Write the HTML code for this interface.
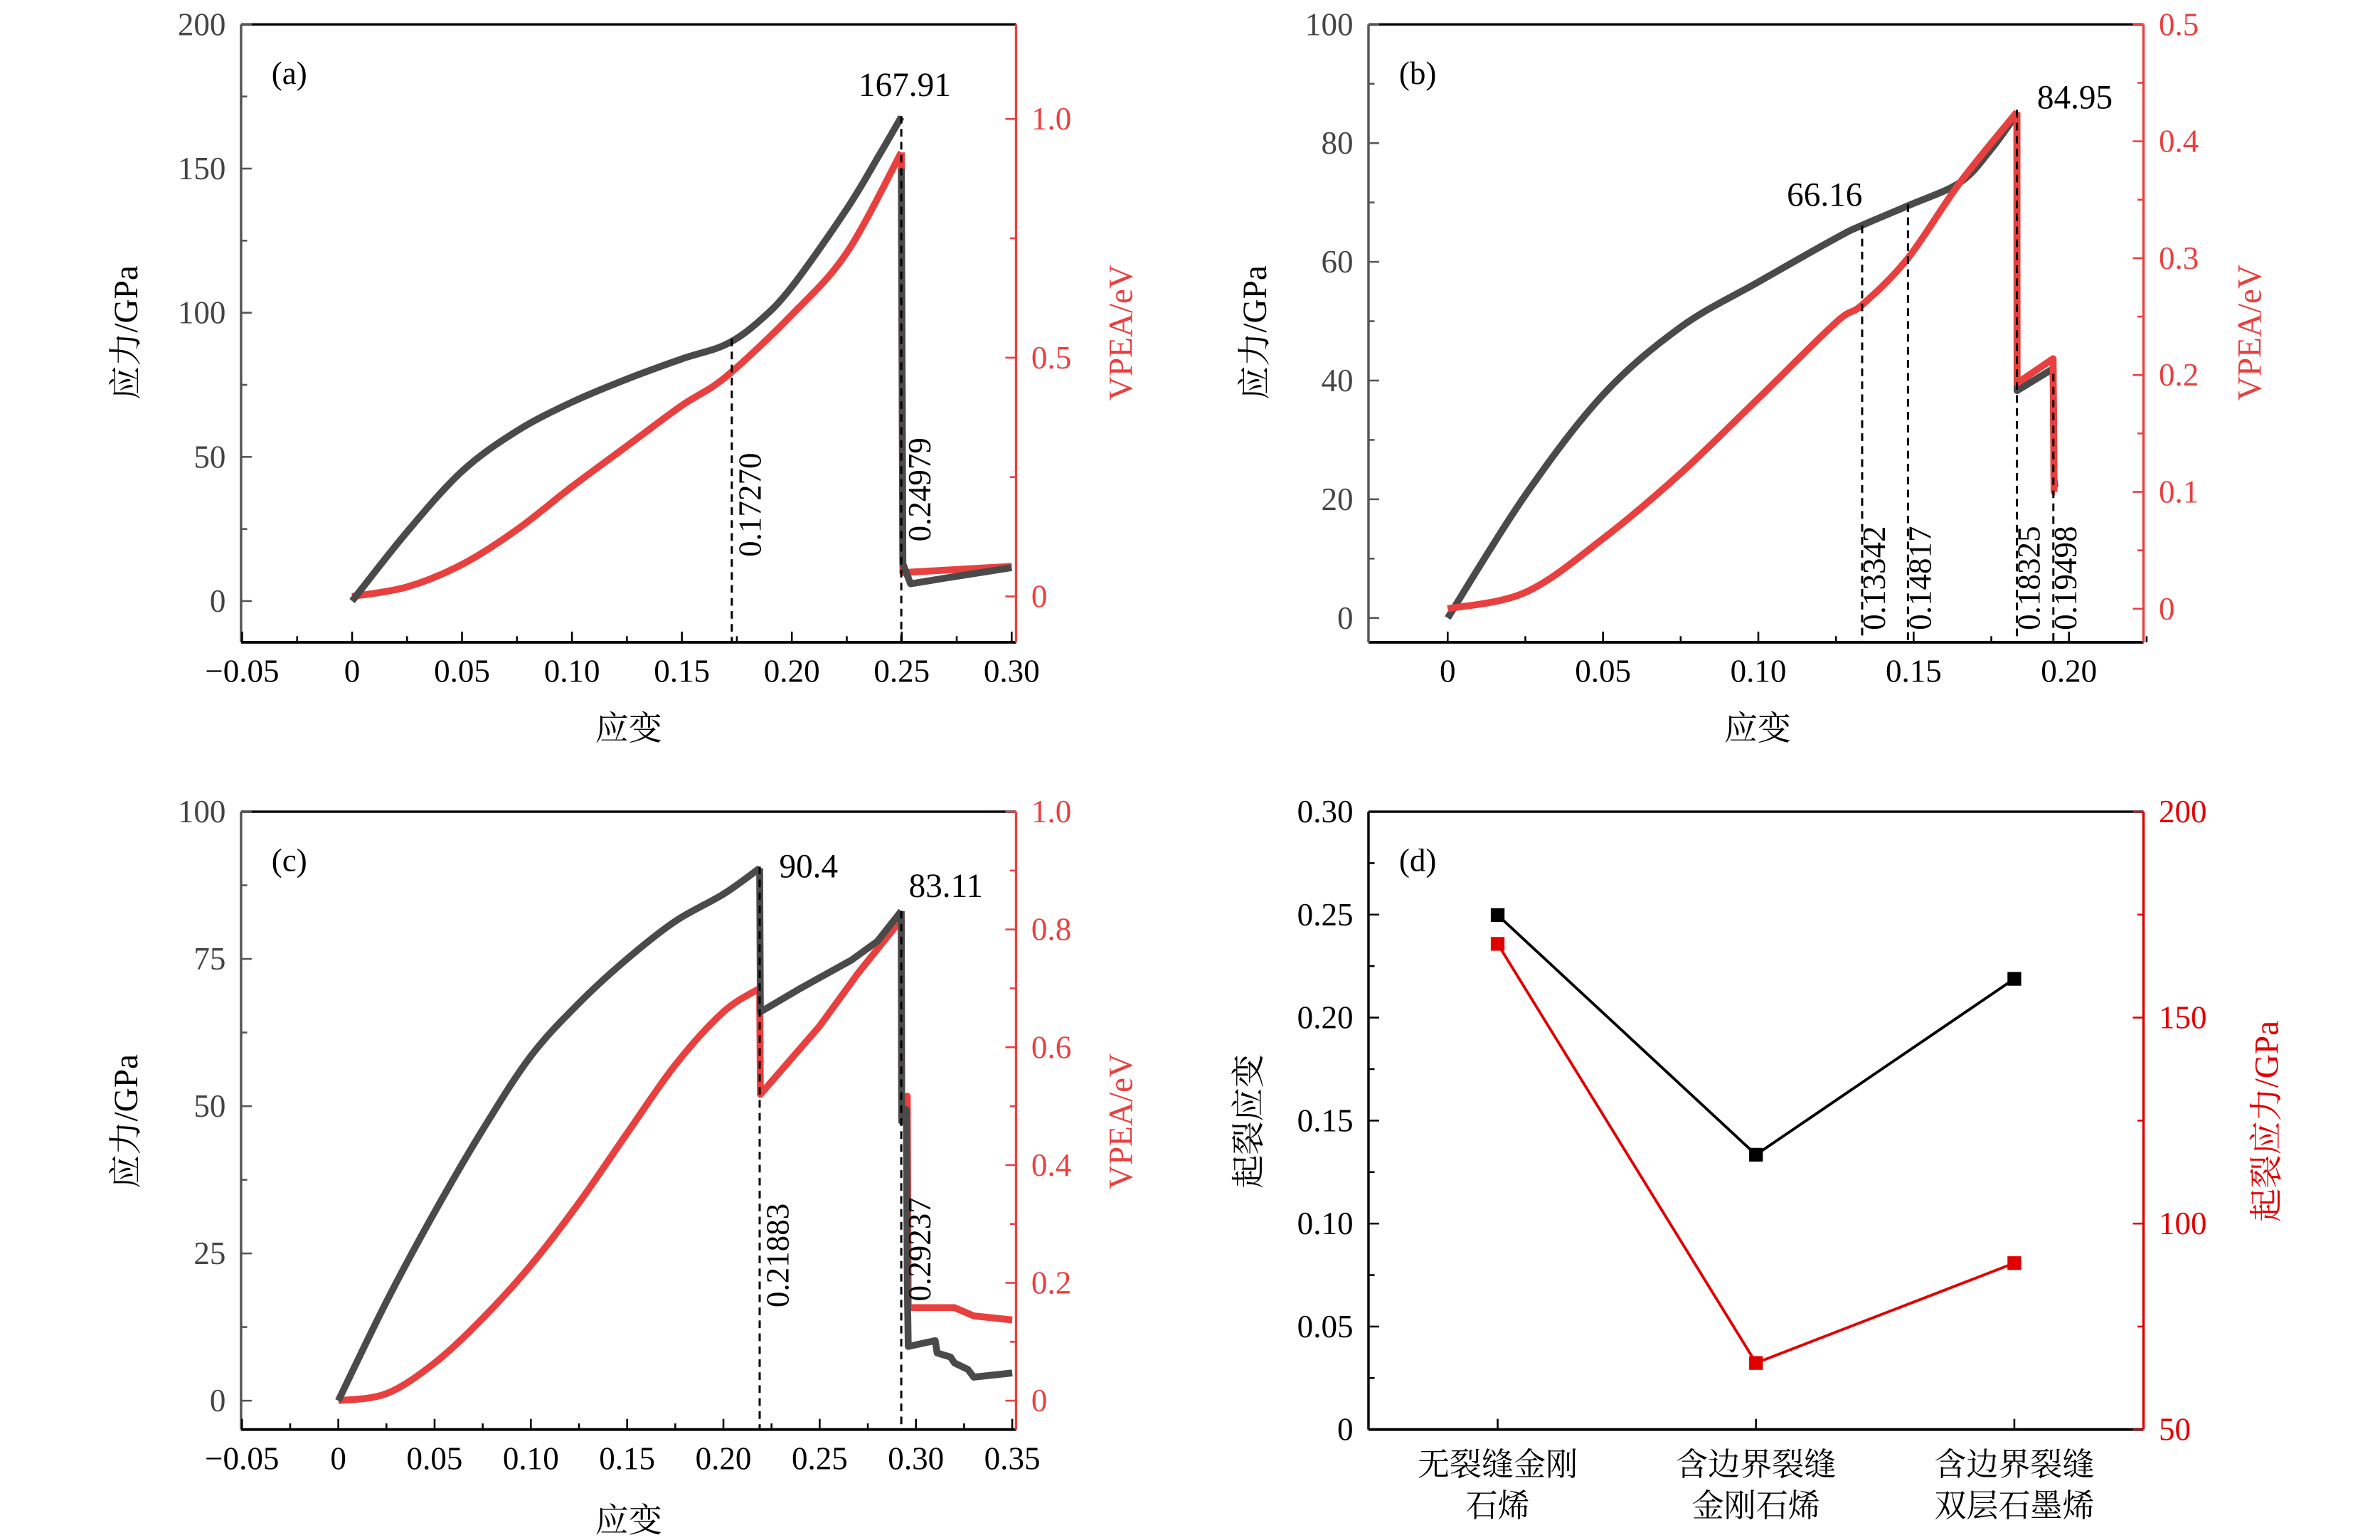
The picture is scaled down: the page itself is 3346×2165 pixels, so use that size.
<!DOCTYPE html>
<html><head><meta charset="utf-8">
<style>
html,body{margin:0;padding:0;background:#fff;}
svg{display:block;}
text{font-family:"Liberation Serif","Noto Serif CJK SC","Noto Sans CJK SC",serif;}
</style></head>
<body>
<svg id="fig" xmlns="http://www.w3.org/2000/svg" width="3346" height="2165" viewBox="0 0 1560 1009.4">
<rect x="0" y="0" width="1560" height="1009.4" fill="#fff"/>
</svg>
<script>
// ---------- Panel (a) data ----------
const aStrain = [0,0.025,0.05,0.075,0.10,0.125,0.15,0.17,0.185,0.20,0.225,0.24,0.2498];
const aStress = [0,24,45,59,69,77,84,89,97,109,136,155,167.9];
const aStrainPost = [0.2498,0.2505,0.254,0.27,0.30];
const aStressPost = [150,13,6,8,11.6];
const aVStrain = [0,0.025,0.05,0.075,0.10,0.125,0.15,0.17,0.20,0.225,0.2498];
const aVpea = [0,0.02,0.067,0.14,0.23,0.315,0.40,0.46,0.59,0.72,0.93];
const aVStrainPost = [0.2498,0.2505,0.30];
const aVpeaPost = [0.93,0.05,0.063];
const aMarks = [0.17270,0.24979];

// ---------- Panel (b) data ----------
const bStrain = [0,0.025,0.05,0.075,0.10,0.125,0.13342,0.1484,0.165,0.175,0.18325];
const bStress = [0,20.7,37.6,49,56.6,64,66.16,69.5,73.4,79,84.95];
const bStrainPost = [0.18325,0.1833,0.1949,0.1952,0.1955];
const bStressPost = [84.95,38.3,42,23.4,22];
const bVStrain = [0,0.025,0.05,0.075,0.10,0.125,0.13342,0.14817,0.165,0.18325];
const bVpea = [0,0.014,0.06,0.116,0.18,0.245,0.26,0.30,0.365,0.425];
const bVStrainPost = [0.18325,0.1833,0.1949,0.1952,0.1955];
const bVpeaPost = [0.425,0.193,0.214,0.1,0.1];
const bMarks = [0.13342,0.14817,0.18325,0.19498];

// ---------- Panel (c) data ----------
const cStrain = [0,0.025,0.05,0.075,0.10,0.125,0.15,0.175,0.20,0.21883];
const cStress = [0,16.8,32,46,58.5,67.5,75,81.4,86,90.4];
const cStrainPost = [0.21883,0.2192,0.24,0.2665,0.28,0.29237];
const cStressPost = [90.4,66,70,74.8,78,83.11];
const cStrainTail = [0.29237,0.2926,0.295,0.2955,0.296,0.31,0.311,0.318,0.32,0.327,0.33,0.35];
const cStressTail = [83.11,47.4,49.4,20,9.2,10.2,8.1,7.4,6.4,5.3,4,4.7];
const cVStrain = [0,0.025,0.05,0.075,0.10,0.125,0.15,0.175,0.20,0.21883];
const cVpea = [0,0.012,0.064,0.14,0.23,0.336,0.454,0.57,0.66,0.70];
const cVStrainPost = [0.21883,0.2192,0.25,0.27,0.29237];
const cVpeaPost = [0.70,0.52,0.636,0.726,0.817];
const cVStrainTail = [0.29237,0.2926,0.2955,0.296,0.32,0.33,0.35];
const cVpeaTail = [0.817,0.51,0.517,0.158,0.158,0.144,0.137];
const cMarks = [0.21883,0.29237];

// ---------- Panel (d) data ----------
const dCategories = [["无裂缝金刚","石烯"],["含边界裂缝","金刚石烯"],["含边界裂缝","双层石墨烯"]];
const dCrackStrain = [0.24979,0.13342,0.21883];
const dCrackStress = [167.91,66.16,90.4];

const SVGNS="http://www.w3.org/2000/svg";
const fig=document.getElementById('fig');
function el(tag,attrs,parent){const e=document.createElementNS(SVGNS,tag);for(const k in attrs)e.setAttribute(k,attrs[k]);(parent||fig).appendChild(e);return e;}
function txt(s,x,y,attrs,parent){const t=el('text',Object.assign({x:x,y:y},attrs||{}),parent);t.textContent=s;return t;}
function lin(d0,d1,p0,p1){return v=>p0+(v-d0)*(p1-p0)/(d1-d0);}
function smoothPath(P){
  if(P.length<3) return 'M'+P.map(p=>p[0].toFixed(2)+','+p[1].toFixed(2)).join(' L');
  let d='M'+P[0][0].toFixed(2)+','+P[0][1].toFixed(2);
  for(let i=0;i<P.length-1;i++){
    const p0=P[Math.max(0,i-1)],p1=P[i],p2=P[i+1],p3=P[Math.min(P.length-1,i+2)];
    const c1=[p1[0]+(p2[0]-p0[0])/6,p1[1]+(p2[1]-p0[1])/6];
    const c2=[p2[0]-(p3[0]-p1[0])/6,p2[1]-(p3[1]-p1[1])/6];
    d+=' C'+c1[0].toFixed(2)+','+c1[1].toFixed(2)+' '+c2[0].toFixed(2)+','+c2[1].toFixed(2)+' '+p2[0].toFixed(2)+','+p2[1].toFixed(2);
  }
  return d;
}

const GRAY='#4a4a4a', RED='#e8403f', AX='#555';

function panel(o){
  const g=el('g',{});
  
  
  const X=lin(o.xd[0],o.xd[1],o.L,o.R), Y=lin(o.yd[0],o.yd[1],o.B,o.T), Y2=o.y2d?lin(o.y2d[0],o.y2d[1],o.B,o.T):null;
  (o.series||[]).forEach(s=>{
    const P=s.x.map((v,i)=>[X(v),s.right?Y2(s.y[i]):Y(s.y[i])]);
    const p=el('path',{d:s.smooth?smoothPath(P):'M'+P.map(q=>q[0].toFixed(2)+','+q[1].toFixed(2)).join(' L'),fill:'none',stroke:s.color,'stroke-width':s.w||4.5,'stroke-linejoin':'round'},g);
    
    
  });
  (o.marks||[]).forEach((m,i)=>{
    const top=o.markTops[i];
    const l=el('line',{x1:X(m),x2:X(m),y1:top,y2:o.B,stroke:'#000','stroke-width':1.4,'stroke-dasharray':'5,3.5'},g);
    
    
    const tx=X(m)+(o.markDx||19), ty=o.markY[i];
    const t=txt(m.toFixed(5),tx,ty,{'font-size':21,transform:'rotate(-90 '+tx+' '+ty+')','text-anchor':'start'},g);
    
    
  });
  el('line',{x1:o.L,x2:o.R,y1:o.T,y2:o.T,stroke:'#000','stroke-width':1.6},g);
  el('line',{x1:o.L,x2:o.R,y1:o.B,y2:o.B,stroke:'#000','stroke-width':1.8},g);
  el('line',{x1:o.L,x2:o.L,y1:o.T,y2:o.B,stroke:o.leftColor||AX,'stroke-width':1.6},g);
  el('line',{x1:o.R,x2:o.R,y1:o.T,y2:o.B,stroke:o.rightColor||'#000','stroke-width':1.6},g);
  if(o.xticks){
    o.xticks.forEach((v,i)=>{
      const x=X(v);
      el('line',{x1:x,x2:x,y1:o.B,y2:o.B-7,stroke:'#000','stroke-width':1.2},g);
      const t=txt(o.xlabels[i],x,o.B+26,{'font-size':21,'text-anchor':'middle'},g);
      
      
    });
    (o.xminor||[]).forEach(v=>{const x=X(v);el('line',{x1:x,x2:x,y1:o.B,y2:o.B-4,stroke:'#000','stroke-width':1.2},g);});
  }
  o.yticks.forEach((v,i)=>{
    const y=Y(v);
    el('line',{x1:o.L,x2:o.L+7,y1:y,y2:y,stroke:o.leftColor||AX,'stroke-width':1.2},g);
    const t=txt(o.ylabels[i],o.L-10,y+7,{'font-size':21,'text-anchor':'end',fill:o.leftTextColor||'#444'},g);
    
    
  });
  o.yminor.forEach(v=>{const y=Y(v);el('line',{x1:o.L,x2:o.L+4,y1:y,y2:y,stroke:o.leftColor||AX,'stroke-width':1.2},g);});
  if(Y2){
    o.y2ticks.forEach((v,i)=>{
      const y=Y2(v);
      el('line',{x1:o.R,x2:o.R-7,y1:y,y2:y,stroke:o.rightColor,'stroke-width':1.2},g);
      const t=txt(o.y2labels[i],o.R+10,y+7,{'font-size':21,'text-anchor':'start',fill:o.rightColor},g);
      
      
    });
    o.y2minor.forEach(v=>{const y=Y2(v);el('line',{x1:o.R,x2:o.R-4,y1:y,y2:y,stroke:o.rightColor,'stroke-width':1.2},g);});
  }
  const pl=txt(o.letter,o.L+20,o.T+39,{'font-size':21},g);
  
  
  return {X,Y,Y2,g};
}
function range(a,b,s){const r=[];for(let v=a;v<=b+1e-9;v+=s)r.push(+v.toFixed(4));return r;}
function axTitle(s,x,y,rot,color,name){
  const t=txt(s,x,y,{'font-size':22,'text-anchor':'middle',fill:color||'#000',transform:rot?'rotate(-90 '+x+' '+y+')':''});
  
  
  return t;
}
function annot(s,x,y,name){
  const t=txt(s,x,y,{'font-size':22,'text-anchor':'middle'});
  
  
}

// ---------- (a) ----------
const pa=panel({name:'panel-a',letter:'(a)',L:158,R:666,T:16,B:421,xd:[-0.0505,0.302],yd:[-14.3,200],
  y2d:[-0.096,1.198],rightColor:RED,
  xticks:[-0.05,0,0.05,0.10,0.15,0.20,0.25,0.30],xlabels:['−0.05','0','0.05','0.10','0.15','0.20','0.25','0.30'],xminor:range(-0.025,0.275,0.05),
  yticks:[0,50,100,150,200],ylabels:['0','50','100','150','200'],yminor:[25,75,125,175],
  y2ticks:[0,0.5,1.0],y2labels:['0','0.5','1.0'],y2minor:[0.25,0.75],
  series:[
    {name:'vpea-curve-a',x:aVStrain,y:aVpea,color:RED,right:true,smooth:true},
    {name:'vpea-curve-a-post',x:aVStrainPost,y:aVpeaPost,color:RED,right:true},
    {name:'stress-curve-a',x:aStrain,y:aStress,color:GRAY,smooth:true},
    {name:'stress-curve-a-post',x:aStrainPost,y:aStressPost,color:GRAY}],
  marks:aMarks,markTops:[222,76],markY:[365,355]
});
axTitle('应力/GPa',90,218,true,'#000','y-axis-title-a');
axTitle('VPEA/eV',742,218,true,RED,'y2-axis-title-a');
axTitle('应变',412,485,false,'#000','x-axis-title-a');
annot('167.91',593,63,'peak-label-a');

// ---------- (b) ----------
const pb=panel({name:'panel-b',letter:'(b)',L:897,R:1405,T:16,B:421,xd:[-0.0255,0.224],yd:[-4.1,100],
  y2d:[-0.0287,0.5],rightColor:RED,
  xticks:[0,0.05,0.10,0.15,0.20],xlabels:['0','0.05','0.10','0.15','0.20'],xminor:range(0.025,0.225,0.05),
  yticks:[0,20,40,60,80,100],ylabels:['0','20','40','60','80','100'],yminor:[10,30,50,70,90],
  y2ticks:[0,0.1,0.2,0.3,0.4,0.5],y2labels:['0','0.1','0.2','0.3','0.4','0.5'],y2minor:[0.05,0.15,0.25,0.35,0.45],
  series:[
    {name:'stress-curve-b',x:bStrain,y:bStress,color:GRAY,smooth:true},
    {name:'stress-curve-b-post',x:bStrainPost,y:bStressPost,color:GRAY},
    {name:'vpea-curve-b',x:bVStrain,y:bVpea,color:RED,right:true,smooth:true},
    {name:'vpea-curve-b-post',x:bVStrainPost,y:bVpeaPost,color:RED,right:true}],
  marks:bMarks,markTops:[148,134,72,245],markY:[413,413,413,413],markDx:15
});
axTitle('应力/GPa',830,218,true,'#000','y-axis-title-b');
axTitle('VPEA/eV',1482,218,true,RED,'y2-axis-title-b');
axTitle('应变',1152,485,false,'#000','x-axis-title-b');
annot('66.16',1196,135,'peak-label-b1');
annot('84.95',1360,71,'peak-label-b2');

// ---------- (c) ----------
const pc=panel({name:'panel-c',letter:'(c)',L:158,R:666,T:532,B:937,xd:[-0.0505,0.352],yd:[-4.9,100],
  y2d:[-0.049,1],rightColor:RED,
  xticks:[-0.05,0,0.05,0.10,0.15,0.20,0.25,0.30,0.35],xlabels:['−0.05','0','0.05','0.10','0.15','0.20','0.25','0.30','0.35'],xminor:range(-0.025,0.325,0.05),
  yticks:[0,25,50,75,100],ylabels:['0','25','50','75','100'],yminor:[12.5,37.5,62.5,87.5],
  y2ticks:[0,0.2,0.4,0.6,0.8,1.0],y2labels:['0','0.2','0.4','0.6','0.8','1.0'],y2minor:[0.1,0.3,0.5,0.7,0.9],
  series:[
    {name:'vpea-curve-c',x:cVStrain,y:cVpea,color:RED,right:true,smooth:true},
    {name:'vpea-curve-c-post',x:cVStrainPost,y:cVpeaPost,color:RED,right:true},
    {name:'vpea-curve-c-tail',x:cVStrainTail,y:cVpeaTail,color:RED,right:true},
    {name:'stress-curve-c',x:cStrain,y:cStress,color:GRAY,smooth:true},
    {name:'stress-curve-c-post',x:cStrainPost,y:cStressPost,color:GRAY},
    {name:'stress-curve-c-tail',x:cStrainTail,y:cStressTail,color:GRAY}],
  marks:cMarks,markTops:[568,597],markY:[857,853]
});
axTitle('应力/GPa',90,735,true,'#000','y-axis-title-c');
axTitle('VPEA/eV',742,735,true,RED,'y2-axis-title-c');
axTitle('应变',412,1004,false,'#000','x-axis-title-c');
annot('90.4',530,575,'peak-label-c1');
annot('83.11',620,588,'peak-label-c2');

// ---------- (d) ----------
const pd=panel({name:'panel-d',letter:'(d)',L:897,R:1405,T:532,B:937,xd:[-0.5,2.5],yd:[0,0.30],leftColor:'#000',leftTextColor:'#000',
  y2d:[50,200],rightColor:'#e00000',
  yticks:[0,0.05,0.10,0.15,0.20,0.25,0.30],ylabels:['0','0.05','0.10','0.15','0.20','0.25','0.30'],yminor:[0.025,0.075,0.125,0.175,0.225,0.275],
  y2ticks:[50,100,150,200],y2labels:['50','100','150','200'],y2minor:[75,125,175],
  series:[]
});
dCategories.forEach((c,i)=>{
  const x=pd.X(i);
  el('line',{x1:x,x2:x,y1:937,y2:930,stroke:'#000','stroke-width':1.2});
  const t1=txt(c[0],x,967,{'font-size':21,'text-anchor':'middle'});
  
  
  const t2=txt(c[1],x,994,{'font-size':21,'text-anchor':'middle'});
  
  
});
const dStrainLine=el('polyline',{points:dCrackStrain.map((v,i)=>pd.X(i)+','+pd.Y(v)).join(' '),fill:'none',stroke:'#000','stroke-width':1.8});


const dStressLine=el('polyline',{points:dCrackStress.map((v,i)=>pd.X(i)+','+pd.Y2(v)).join(' '),fill:'none',stroke:'#e00000','stroke-width':1.8});


dCrackStrain.forEach((v,i)=>{
  const r=el('rect',{x:pd.X(i)-4.5,y:pd.Y(v)-4.5,width:9,height:9,fill:'#000'});
  
  
});
dCrackStress.forEach((v,i)=>{
  const r=el('rect',{x:pd.X(i)-4.5,y:pd.Y2(v)-4.5,width:9,height:9,fill:'#e00000'});
  
  
});
axTitle('起裂应变',826,735,true,'#000','y-axis-title-d');
axTitle('起裂应力/GPa',1493,735,true,'#e00000','y2-axis-title-d');
</script>
</body></html>
